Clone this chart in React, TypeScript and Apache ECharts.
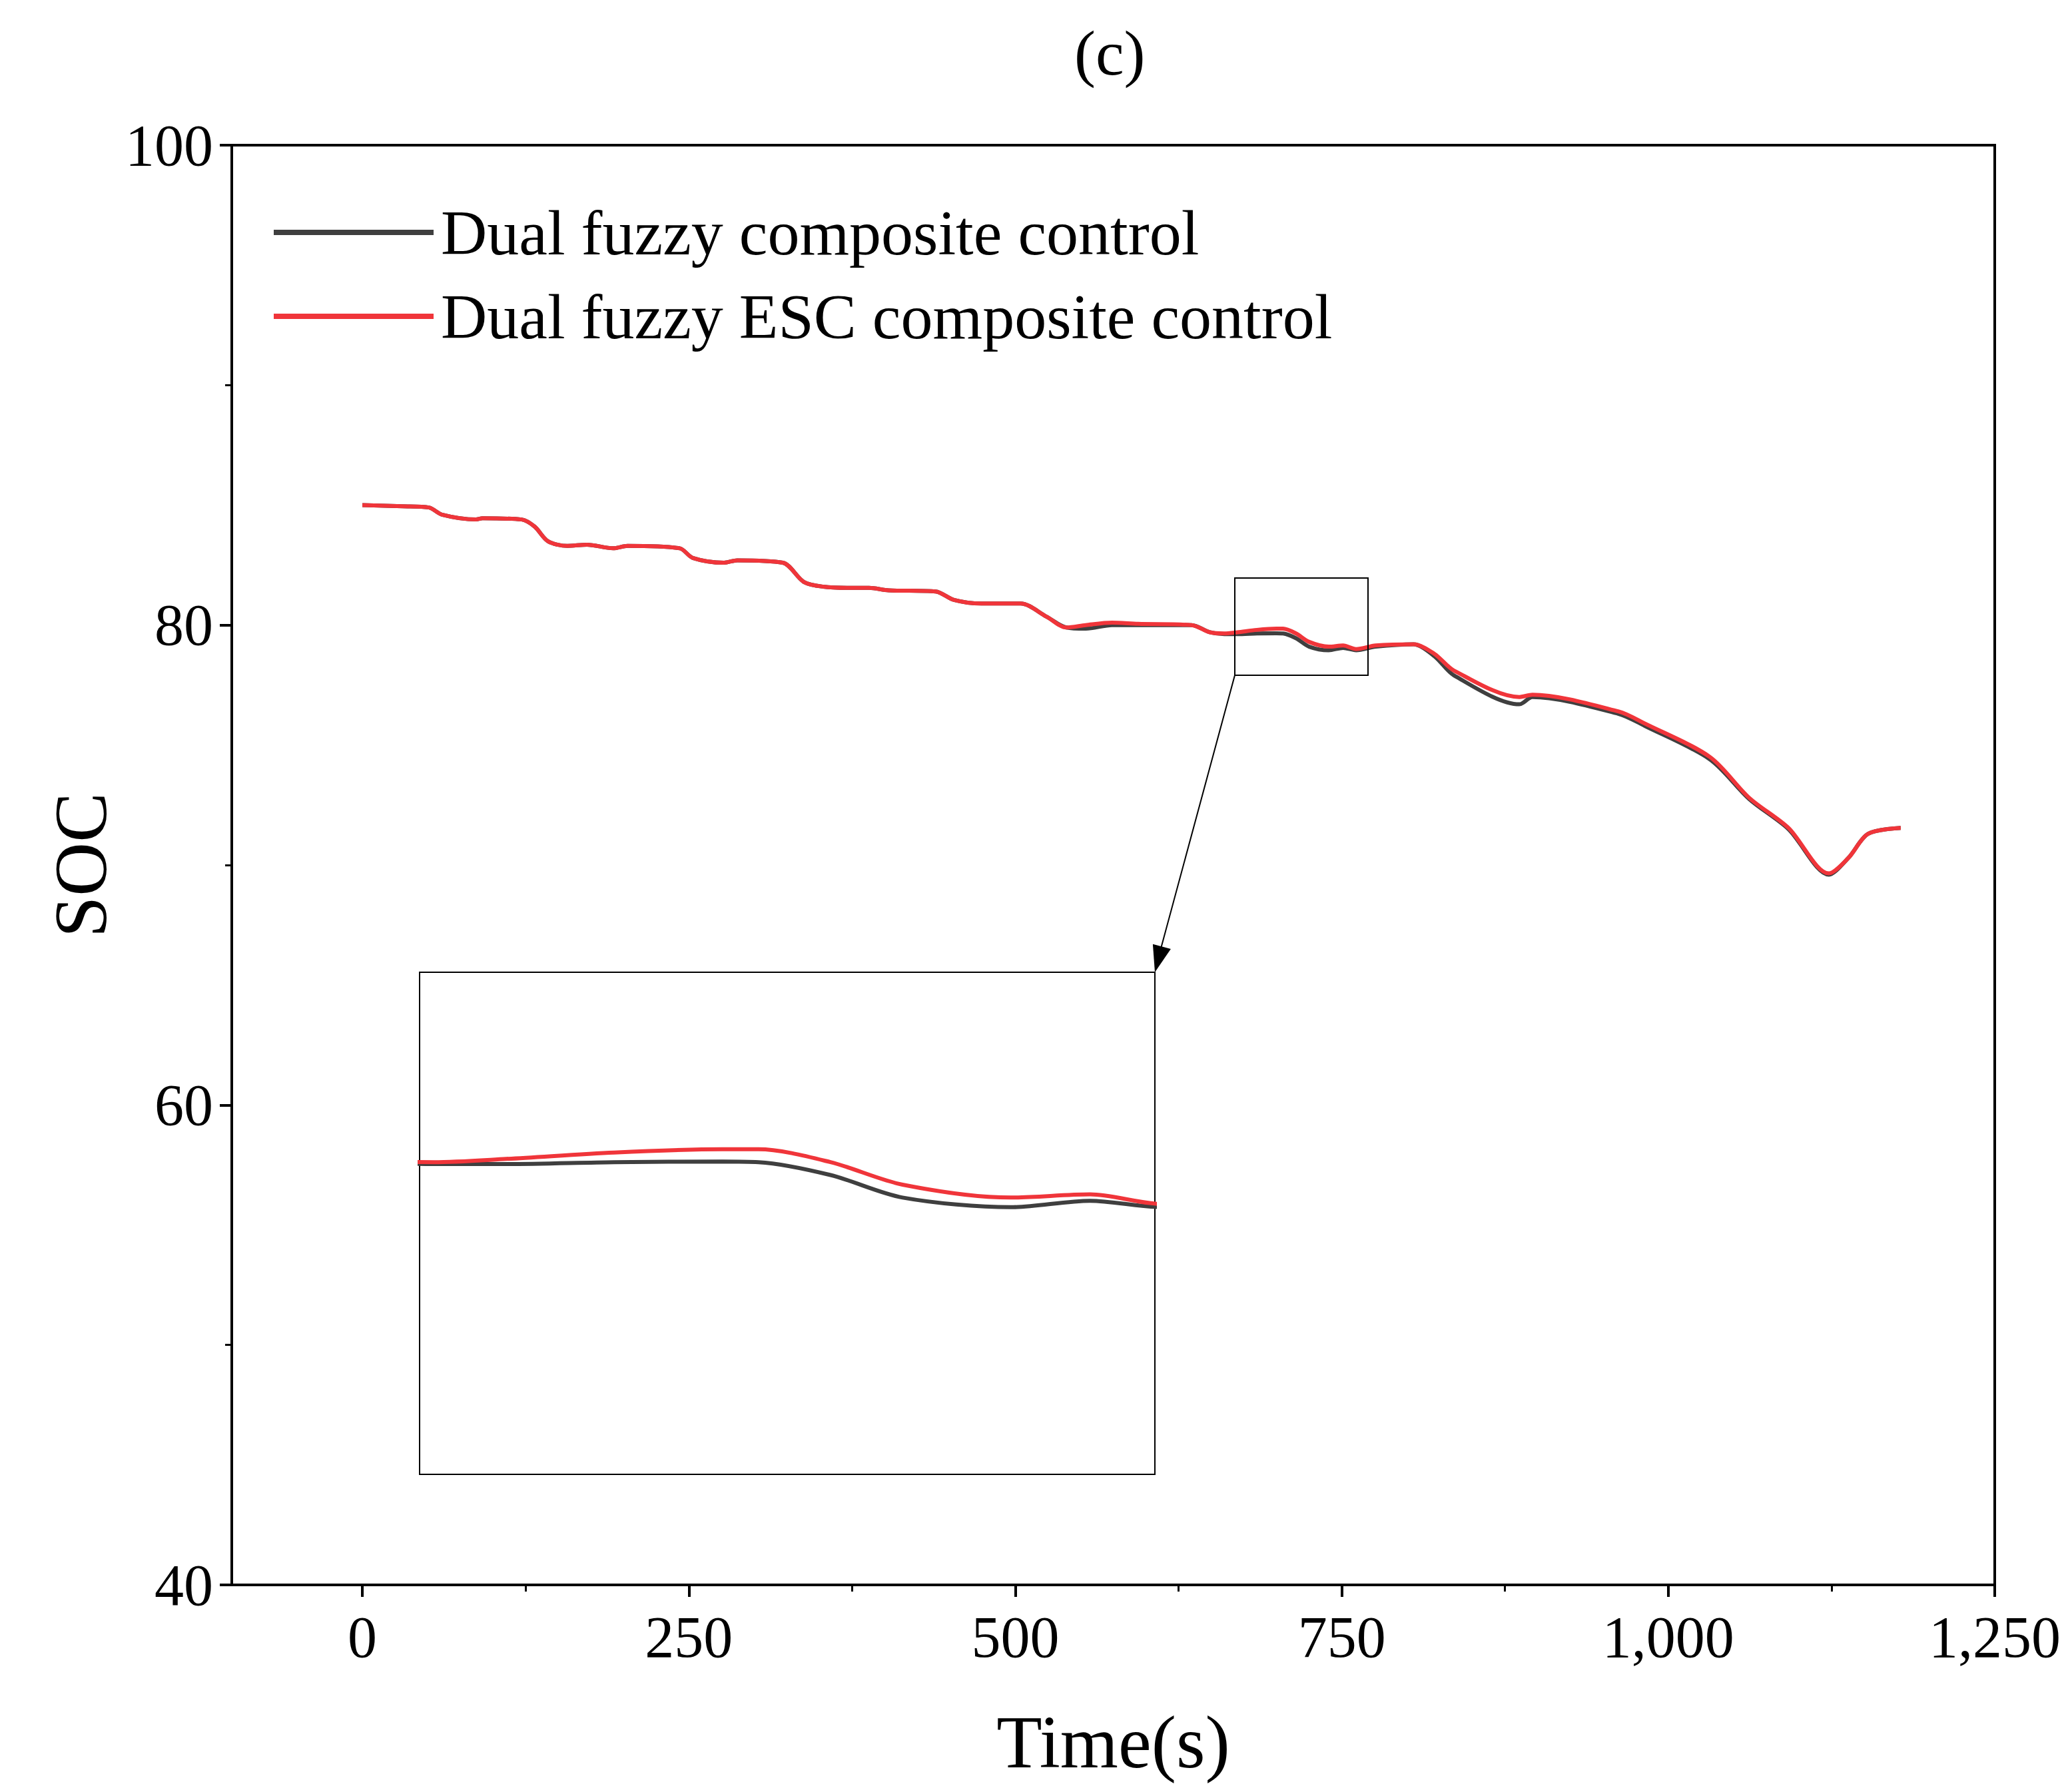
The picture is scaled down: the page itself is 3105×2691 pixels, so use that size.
import React, { useEffect, useRef } from "react";
import * as echarts from "echarts";

const redData: [number, number][] = [
  [0, 85.0], [31, 84.95], [51, 84.9], [61, 84.6], [87, 84.4], [92, 84.45], [122, 84.4], [132, 84.1],
  [142, 83.5], [157, 83.3], [172, 83.35], [192, 83.2], [203, 83.3], [243, 83.2], [253, 82.8], [277, 82.6],
  [287, 82.7], [322, 82.6], [338, 81.8], [353, 81.6], [373, 81.55], [388, 81.55], [403, 81.45], [439, 81.4],
  [453, 81.05], [474, 80.9], [504, 80.9], [524, 80.35], [539, 79.9], [554, 80.0], [574, 80.1], [594, 80.05],
  [635, 80.0], [649, 79.7], [660, 79.65], [670, 79.7], [685, 79.8], [700, 79.85], [705, 79.85], [715, 79.65],
  [725, 79.3], [740, 79.1], [751, 79.15], [761, 79.0], [776, 79.15], [805, 79.2], [821, 78.8], [836, 78.1],
  [886, 77.0], [896, 77.1], [962, 76.4], [982, 75.9], [1032, 74.5], [1062, 72.8], [1092, 71.55], [1123, 69.65],
  [1138, 70.3], [1153, 71.3], [1178, 71.55],
];
const blackData: [number, number][] = [
  [0, 85.0], [31, 84.95], [51, 84.9], [61, 84.6], [87, 84.4], [92, 84.45], [122, 84.4], [132, 84.1],
  [142, 83.5], [157, 83.3], [172, 83.35], [192, 83.2], [203, 83.3], [243, 83.2], [253, 82.8], [277, 82.6],
  [287, 82.7], [322, 82.6], [338, 81.8], [353, 81.6], [373, 81.55], [388, 81.55], [403, 81.45], [439, 81.4],
  [453, 81.05], [474, 80.9], [504, 80.9], [524, 80.35], [539, 79.9], [554, 79.85], [574, 80.0], [594, 80.0],
  [635, 80.0], [649, 79.7], [660, 79.62], [670, 79.62], [685, 79.65], [700, 79.66], [705, 79.65], [715, 79.45],
  [725, 79.1], [740, 78.95], [751, 79.05], [761, 78.95], [776, 79.1], [805, 79.2], [821, 78.7], [836, 77.9],
  [886, 76.7], [896, 77.0], [962, 76.3], [982, 75.8], [1032, 74.4], [1062, 72.75], [1092, 71.5], [1123, 69.6],
  [1138, 70.3], [1153, 71.3], [1178, 71.55],
];
const seriesNames = ["Dual fuzzy composite control", "Dual fuzzy ESC composite control"];
const xTicks = [0, 250, 500, 750, 1000, 1250];
const xMinorTicks = [125, 375, 625, 875, 1125];

export default function App() {
  const ref = useRef<HTMLDivElement>(null);
  useEffect(() => {
    const chart = echarts.init(ref.current!, null, { renderer: "svg" });
    const font = "Liberation Serif";
    const lw = 4;
    chart.setOption({
      animation: false,
      backgroundColor: "#fff",
      textStyle: { fontFamily: font, color: "#000" },
      title: { text: "(c)", left: 1600, top: 18, textStyle: { fontFamily: font, fontSize: 96, fontWeight: "normal", color: "#000" } },
      legend: {
        data: seriesNames, orient: "vertical", left: 398, top: 288, itemWidth: 240, itemHeight: 8, itemGap: 30,
        icon: "rect", textStyle: { fontFamily: font, fontSize: 96, color: "#000", padding: [0, 0, 0, 6] },
      },
      grid: [
        { left: 340, top: 210, width: 2680, height: 2162, show: true, borderColor: "#000", borderWidth: lw },
        { left: 622, top: 1452, width: 1104, height: 754, show: true, borderColor: "#000", borderWidth: 2 },
      ],
      xAxis: [
        {
          gridIndex: 0, type: "value", min: -100, max: 1250,
          axisLine: { onZero: false, lineStyle: { color: "#000", width: lw } },
          axisTick: { length: 18, customValues: xTicks, lineStyle: { width: lw } },
          splitLine: { show: false },
          axisLabel: { fontFamily: font, fontSize: 88, color: "#000", margin: 34, customValues: xTicks, showMinLabel: true, showMaxLabel: true },
          name: "Time(s)", nameLocation: "middle", nameGap: 180, nameTextStyle: { fontFamily: font, fontSize: 112, color: "#000" },
        },
        { gridIndex: 1, type: "value", min: 658, max: 760, show: false },
        {
          gridIndex: 0, type: "value", min: -100, max: 1250, position: "bottom",
          axisLine: { show: false, onZero: false },
          axisTick: { length: 10, customValues: xMinorTicks, lineStyle: { color: "#000", width: 3 } },
          axisLabel: { show: false }, splitLine: { show: false },
        },
      ],
      yAxis: [
        {
          gridIndex: 0, type: "value", min: 40, max: 100, interval: 20,
          axisLine: { onZero: false, lineStyle: { color: "#000", width: lw } },
          axisTick: { length: 18, lineStyle: { width: lw } },
          minorTick: { show: true, splitNumber: 2, length: 10, lineStyle: { color: "#000", width: 3 } },
          splitLine: { show: false },
          axisLabel: { fontFamily: font, fontSize: 88, color: "#000", margin: 28 },
          name: "SOC", nameLocation: "middle", nameGap: 170, nameTextStyle: { fontFamily: font, fontSize: 112, color: "#000" },
        },
        { gridIndex: 1, type: "value", min: 74.8, max: 82.6, show: false },
      ],
      series: [
        { name: seriesNames[0], type: "line", data: blackData, xAxisIndex: 0, yAxisIndex: 0, showSymbol: false, smooth: 0.3, lineStyle: { color: "#3f3f3f", width: 6 }, itemStyle: { color: "#3f3f3f" } },
        { name: seriesNames[1], type: "line", data: redData, xAxisIndex: 0, yAxisIndex: 0, showSymbol: false, smooth: 0.3, lineStyle: { color: "#f0353a", width: 6 }, itemStyle: { color: "#f0353a" } },
        { name: seriesNames[0], type: "line", data: blackData, xAxisIndex: 1, yAxisIndex: 1, showSymbol: false, smooth: 0.3, lineStyle: { color: "#3f3f3f", width: 6 }, clip: true },
        { name: seriesNames[1], type: "line", data: redData, xAxisIndex: 1, yAxisIndex: 1, showSymbol: false, smooth: 0.3, lineStyle: { color: "#f0353a", width: 6 }, clip: true },
      ],
      graphic: [
        { type: "rect", shape: { x: 1846, y: 860, width: 200, height: 146 }, style: { fill: "none", stroke: "#000", lineWidth: 2 }, z: 100 },
        { type: "line", shape: { x1: 1846, y1: 1006, x2: 1734, y2: 1420 }, style: { stroke: "#000", lineWidth: 2 }, z: 100 },
        { type: "polygon", shape: { points: [[1726, 1452], [1749.9, 1417], [1722.9, 1409.8]] }, style: { fill: "#000" }, z: 100 },
      ],
    });
    return () => chart.dispose();
  }, []);
  return <div ref={ref} style={{ width: 3089, height: 2675 }} />;
}
